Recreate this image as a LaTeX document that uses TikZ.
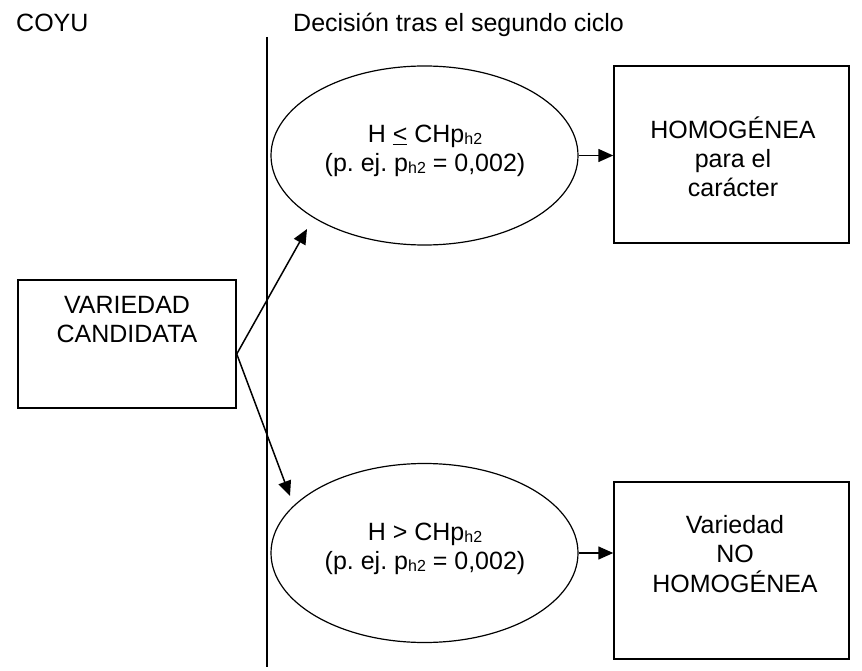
\documentclass[tikz,border=0pt]{standalone}
\usepackage{fontspec}
\setmainfont{Liberation Sans}
\usetikzlibrary{shapes.geometric,arrows.meta}
\newcommand\lowsub[1]{\raisebox{-1.5pt}{\fontsize{16}{16}\selectfont #1}}
\frenchspacing
\begin{document}
\begin{tikzpicture}[x=1pt,y=-1pt,
  every node/.style={font=\fontsize{25}{29}\selectfont},
  boxn/.style={draw,line width=1.5pt,inner sep=0pt,rectangle},
  ell/.style={draw,line width=1.2pt,ellipse,inner sep=0pt,minimum width=307pt,minimum height=179pt},
  txt/.style={inner sep=0pt,anchor=base},
  arr/.style={line width=1.5pt,-{Triangle[length=15pt,width=13pt]}},
]
\useasboundingbox (0,0) rectangle (862,671);

\node[txt,anchor=base west] (coyu) at (16,32) {COYU};
\node[txt,anchor=base west] (dec) at (293,32) {Decisión tras el segundo ciclo};

\coordinate (vtop) at (266.5,37);
\coordinate (vbot) at (266.5,667);
\draw[line width=2pt] (vtop) -- (vbot);

\node[boxn,minimum width=218pt,minimum height=128pt] (cand) at (127,344) {};
\node[txt] (candt) at (127,313) {\begin{tabular}[t]{@{}c@{}}VARIEDAD\\CANDIDATA\end{tabular}};

\node[ell] (e1) at (424.5,155.5) {};
\node[txt] (e1t) at (425,143) {\begin{tabular}[t]{@{}c@{}}H \underline{<} CHp\lowsub{h2}\\(p. ej. p\lowsub{h2} = 0,002)\end{tabular}};

\node[boxn,minimum width=235pt,minimum height=177pt] (b1) at (731.5,154.5) {};
\node[txt] (b1t) at (733,139) {\begin{tabular}[t]{@{}c@{}}HOMOGÉNEA\\para el\\carácter\end{tabular}};

\node[ell] (e2) at (424.5,553) {};
\node[txt] (e2t) at (425,540.5) {\begin{tabular}[t]{@{}c@{}}H > CHp\lowsub{h2}\\(p. ej. p\lowsub{h2} = 0,002)\end{tabular}};

\node[boxn,minimum width=235pt,minimum height=177pt] (b2) at (731.5,570.5) {};
\node[txt] (b2t) at (735,533) {\begin{tabular}[t]{@{}c@{}}Variedad\\NO\\HOMOGÉNEA\end{tabular}};

\coordinate (c0) at ([yshift=-10pt]cand.east);
\coordinate (t1) at (307,229);
\coordinate (t2) at (290,496);
\draw[arr] (c0) -- (t1);
\draw[arr] (c0) -- (t2);
\draw[arr] (e1.east) -- (e1.east -| b1.west);
\draw[arr] (e2.east) -- (e2.east -| b2.west);
\end{tikzpicture}
\end{document}
